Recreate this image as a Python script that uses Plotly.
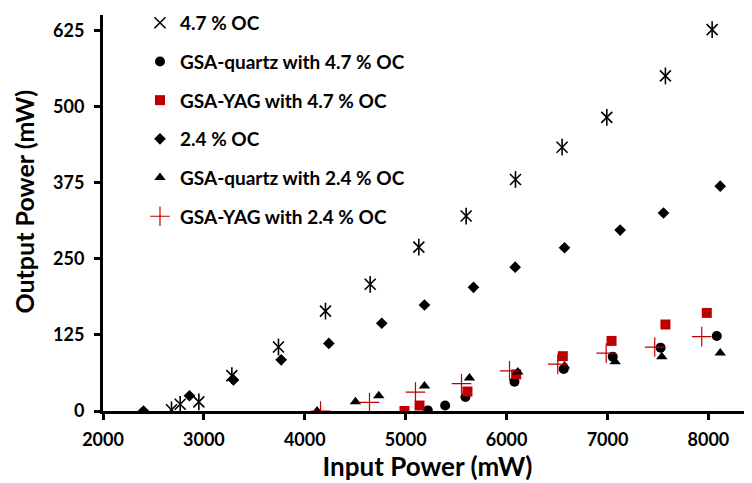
import plotly.graph_objects as go

# ---- data ----
oc47_x = [2679, 2765, 2950, 3277, 3739, 4205, 4648, 5130, 5599, 6088, 6550, 6993, 7574, 8037]
oc47_y = [2, 11, 15, 58, 105, 164, 208, 269, 320, 380, 433, 482, 550, 626]

quartz47_x = [5219, 5391, 5592, 6078, 6566, 7052, 7526, 8083]
quartz47_y = [1, 9, 23, 48, 69, 89, 104, 123]

yag47_x = [4988, 5137, 5612, 6095, 6557, 7040, 7574, 7984]
yag47_y = [0, 9, 32, 60, 90, 115, 142, 161]

oc24_x = [2401, 2857, 3293, 3766, 4238, 4763, 5186, 5672, 6085, 6574, 7125, 7555, 8117]
oc24_y = [0, 25, 51, 84, 111, 144, 174, 203, 236, 268, 297, 325, 369]

quartz24_x = [4122, 4502, 4733, 5186, 5632, 6111, 6574, 7076, 7538, 8117]
quartz24_y = [0, 15, 25, 41, 54, 64, 74, 81, 89, 95]

yag24_x = [4156, 4641, 5097, 5553, 6029, 6507, 6987, 7468, 7934]
yag24_y = [0, 14, 31, 45, 66, 77, 95, 105, 122]

x_ticks = [2000, 3000, 4000, 5000, 6000, 7000, 8000]
y_ticks = [0, 125, 250, 375, 500, 625]

RED = "#C00000"
FONT = "Lato"

fig = go.Figure()
fig.add_trace(go.Scatter(x=oc47_x, y=oc47_y, mode="markers", name="4.7 % OC",
                         legendgroup="a",
                         marker=dict(symbol="x-thin-open", size=11, color="black",
                                     line=dict(color="black", width=1.6))))
fig.add_trace(go.Scatter(x=oc47_x, y=oc47_y, mode="markers", name="4.7 % OC",
                         legendgroup="a", showlegend=False,
                         marker=dict(symbol="line-ns-open", size=12, color="black",
                                     line=dict(color="black", width=1.6))))
fig.add_trace(go.Scatter(x=quartz47_x, y=quartz47_y, mode="markers",
                         name="GSA-quartz with 4.7 % OC", legendgroup="b",
                         marker=dict(symbol="circle", size=10, color="black")))
fig.add_trace(go.Scatter(x=yag47_x, y=yag47_y, mode="markers",
                         name="GSA-YAG with 4.7 % OC", legendgroup="c",
                         marker=dict(symbol="square", size=10, color=RED)))
fig.add_trace(go.Scatter(x=oc24_x, y=oc24_y, mode="markers",
                         name="2.4 % OC", legendgroup="d",
                         marker=dict(symbol="diamond", size=9, color="black")))
fig.add_trace(go.Scatter(x=quartz24_x, y=quartz24_y, mode="markers",
                         name="GSA-quartz with 2.4 % OC", legendgroup="e",
                         marker=dict(symbol="triangle-up", size=10, color="black")))
fig.add_trace(go.Scatter(x=yag24_x, y=yag24_y, mode="markers",
                         name="GSA-YAG with 2.4 % OC", legendgroup="f",
                         marker=dict(symbol="cross-thin-open", size=14, color=RED,
                                     line=dict(color=RED, width=1.2))))

# page body has an 8px default margin, so the figure is 8px smaller each way
fig.update_layout(
    width=744, height=475,
    margin=dict(l=95, r=0, t=7, b=72, autoexpand=False),
    paper_bgcolor="white", plot_bgcolor="white",
    font=dict(family=FONT, color="black"),
    legend=dict(x=0.057, y=1.028, xanchor="left", yanchor="top",
                font=dict(size=19, family=FONT, weight="bold"),
                tracegroupgap=11, bgcolor="rgba(0,0,0,0)"),
    xaxis=dict(range=[2000, 8432], tickvals=x_ticks,
               ticktext=[str(v) for v in x_ticks],
               showgrid=False, zeroline=False, automargin=False,
               showline=True, linecolor="black", linewidth=3,
               ticks="outside", ticklen=6, tickwidth=3, tickcolor="black",
               ticklabelstandoff=4,
               tickfont=dict(size=18, family=FONT, weight="bold"),
               title=dict(text="Input Power (mW)", standoff=1,
                          font=dict(size=26, family=FONT, weight="bold"))),
    yaxis=dict(range=[0, 650], tickvals=y_ticks,
               ticktext=[str(v) for v in y_ticks],
               showgrid=False, zeroline=False, automargin=False,
               showline=True, linecolor="black", linewidth=3,
               ticks="outside", ticklen=6, tickwidth=3, tickcolor="black",
               ticklabelstandoff=6,
               tickfont=dict(size=18, family=FONT, weight="bold")),
    annotations=[dict(text="Output Power (mW)", textangle=-90,
                      xref="paper", yref="paper", x=-0.121, y=0.53,
                      xanchor="center", yanchor="middle", showarrow=False,
                      borderpad=0,
                      font=dict(size=25, family=FONT, weight="bold"))],
)

fig.write_html("out.html")
